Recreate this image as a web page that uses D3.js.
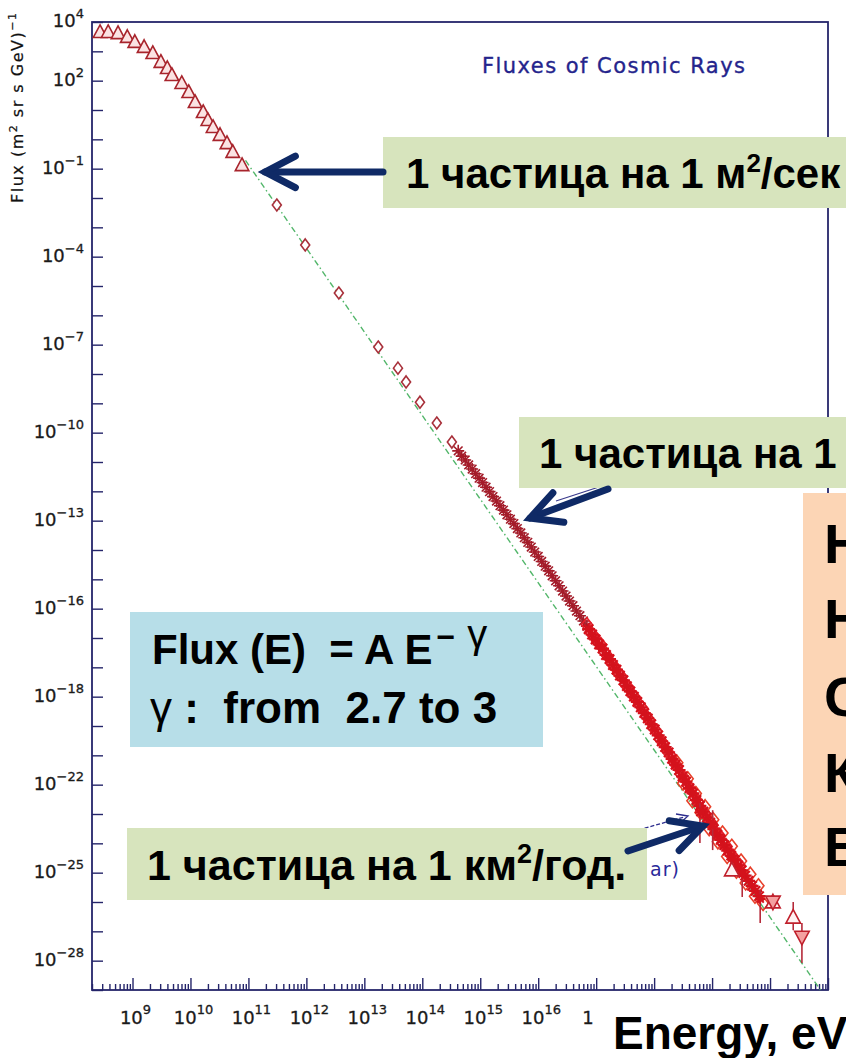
<!DOCTYPE html>
<html>
<head>
<meta charset="utf-8">
<script src="https://cdn.jsdelivr.net/npm/d3@7"></script>
<style>
  html, body { margin: 0; padding: 0; background: #fff; overflow: hidden; }
  svg { display: block; }
  text { font-family: "Liberation Sans", Arial, Helvetica, sans-serif; white-space: pre; }
  .root { font-family: "DejaVu Sans", "Liberation Sans", sans-serif; }
</style>
</head>
<body>
<svg id="chart" width="846" height="1058"></svg>
<script>
// ---- Data: all values are log10 of energy (eV) and log10 of flux (m^2 sr s GeV)^-1 ----

// Low-energy direct measurements (open triangles)
const lowTriLgE    = [8.44, 8.58, 8.75, 8.91, 9.04, 9.20, 9.35, 9.49, 9.60, 9.68, 9.85, 9.97, 10.08, 10.22, 10.30, 10.39, 10.51, 10.63, 10.73, 10.89];
const lowTriLgFlux = [3.66, 3.66, 3.62, 3.49, 3.32, 3.15, 2.94, 2.64, 2.43, 2.19, 1.92, 1.61, 1.27, 0.93, 0.66, 0.42, 0.15, -0.13, -0.43, -0.88];

// Sparse balloon/satellite points (open diamonds)
const diamondLgE    = [11.49, 11.98, 12.56, 13.24, 13.58, 13.72, 13.96, 14.25, 14.51];
const diamondLgFlux = [-2.24, -3.60, -5.24, -7.08, -7.80, -8.27, -8.96, -9.67, -10.32];

// Air-shower points around the knee (asterisks)
const starLgE = [14.62, 14.68, 14.74, 14.80, 14.86, 14.92, 14.98, 15.04, 15.10, 15.16, 15.22, 15.28, 15.34, 15.40,
                 15.46, 15.52, 15.58, 15.64, 15.70, 15.76, 15.82, 15.88, 15.94, 16.00, 16.06, 16.12, 16.18, 16.24,
                 16.30, 16.36, 16.42, 16.48, 16.54, 16.60, 16.66, 16.72, 16.78, 16.84];
const starLgFlux = [-10.62, -10.80, -10.93, -11.10, -11.24, -11.40, -11.55, -11.70, -11.86, -12.01, -12.18, -12.33, -12.49, -12.64,
                    -12.80, -12.95, -13.10, -13.27, -13.42, -13.58, -13.74, -13.90, -14.07, -14.22, -14.39, -14.55, -14.71, -14.88,
                    -15.05, -15.22, -15.40, -15.57, -15.74, -15.90, -16.08, -16.24, -16.42, -16.60];

// Above the knee, first data set (open diamonds)
const bandALgE = [16.84, 16.90, 16.96, 17.02, 17.08, 17.14, 17.20, 17.26, 17.32, 17.38, 17.44, 17.50, 17.56, 17.62, 17.68,
                  17.74, 17.80, 17.86, 17.92, 17.98, 18.04, 18.10, 18.16, 18.22, 18.28, 18.34, 18.40, 18.46, 18.52, 18.58,
                  18.64, 18.70, 18.76, 18.82, 18.88, 18.94, 19.00, 19.06, 19.12, 19.18, 19.24, 19.30, 19.36, 19.42, 19.48];
const bandALgFlux = [-16.55, -16.80, -16.92, -17.12, -17.22, -17.48, -17.62, -17.85, -17.98, -18.20, -18.32, -18.58, -18.70, -18.92, -19.05,
                     -19.26, -19.40, -19.66, -19.80, -20.05, -20.18, -20.45, -20.60, -20.84, -21.00, -21.24, -21.38, -21.64, -21.78, -22.02,
                     -22.18, -22.44, -22.60, -22.86, -23.00, -23.24, -23.36, -23.62, -23.72, -23.98, -24.08, -24.34, -24.44, -24.66, -24.76];

// Above the knee, second data set (asterisks)
const bandBLgE = [16.87, 16.93, 16.99, 17.05, 17.11, 17.17, 17.23, 17.29, 17.35, 17.41, 17.47, 17.53, 17.59, 17.65, 17.71,
                  17.77, 17.83, 17.89, 17.95, 18.01, 18.07, 18.13, 18.19, 18.25, 18.31, 18.37, 18.43, 18.49, 18.55, 18.61,
                  18.67, 18.73, 18.79, 18.85, 18.91, 18.97, 19.03, 19.09, 19.15, 19.21, 19.27, 19.33, 19.39, 19.45, 19.51,
                  19.57, 19.63, 19.69, 19.75, 19.81];
const bandBLgFlux = [-16.70, -16.88, -17.05, -17.22, -17.36, -17.58, -17.72, -17.92, -18.08, -18.28, -18.44, -18.64, -18.82, -19.00, -19.18,
                     -19.36, -19.56, -19.74, -19.94, -20.12, -20.32, -20.52, -20.72, -20.90, -21.12, -21.32, -21.50, -21.72, -21.90, -22.12,
                     -22.30, -22.52, -22.72, -22.92, -23.12, -23.30, -23.52, -23.70, -23.88, -24.06, -24.25, -24.42, -24.58, -24.75, -24.92,
                     -25.10, -25.28, -25.45, -25.62, -25.80];

// Ultra-high-energy data set with larger scatter (open diamonds)
const bandCLgE    = [18.40, 18.50, 18.58, 18.66, 18.72, 18.80, 18.88, 18.95, 19.02, 19.10, 19.18, 19.26, 19.34, 19.42, 19.50, 19.58, 19.66, 19.74, 19.80, 19.88];
const bandCLgFlux = [-21.25, -21.95, -21.80, -22.55, -22.30, -22.95, -22.75, -23.50, -23.20, -23.95, -23.65, -24.45, -24.10, -24.95, -24.60, -25.35, -25.05, -25.80, -25.45, -26.05];

// Low-statistics points with vertical error bars
const errLgE     = [18.79, 19.01, 19.52, 19.83];
const errLgFlux  = [-22.95, -23.35, -25.05, -25.90];
const errLgLow   = [-23.99, -24.23, -25.83, -26.72];
const errLgHigh  = [-22.63, -22.87, -24.91, -25.59];

// Highest-energy points
const hiTriLgE    = [19.34, 20.05];
const hiTriLgFlux = [-24.91, -26.00];
const tailLgE     = [20.05, 20.40, 20.55];
const tailLgFlux  = [-26.00, -26.52, -27.20];
const tailLgLow   = [-26.00, -26.96, -28.08];
const tailLgHigh  = [-26.00, -26.00, -26.72];
const tailShape   = ["down", "up", "down"];

// Power-law reference line E^-gamma
const fitLgE    = [10.95, 20.87];
const fitLgFlux = [-0.72, -29.00];

// Axis ticks
const xLabelExps = [9, 10, 11, 12, 13, 14, 15, 16];
const xCutLabel  = { exp: 17, text: "1" };
const yLabelExps = [4, 2, -1, -4, -7, -10, -13, -16, -19, -22, -25, -28];
const yLabelText = ["4", "2", "\u22121", "\u22124", "\u22127", "\u221210", "\u221213", "\u221216", "\u221218", "\u221222", "\u221225", "\u221228"];

// Annotation anchors (log10 energy, log10 flux) that the arrows point to
const perSecondLg = [11.29, -1.11];
const perYearM2Lg = [15.86, -12.91];
const perYearKm2Lg = [18.84, -23.41];

// ---- Scales ----
const svg = d3.select("#chart");
const x = d3.scaleLog().domain([2e8, 1e21]).range([92, 828]);
const y = d3.scaleLog().domain([1e-29, 1e4]).range([990, 22]);
const X = lg => x(Math.pow(10, lg));
const Y = lg => y(Math.pow(10, lg));

const axisColor = "#25256a";
const navy = "#0f2a66";

// ---- Frame and axes ----
const plot = svg.append("g");

const allX = x.ticks(20);
const isDecade = v => Math.abs(Math.log10(v) - Math.round(Math.log10(v))) < 1e-9;
const minorX = allX.filter(v => !isDecade(v));
const majorX = allX.filter(isDecade);

const xMinor = plot.append("g").attr("transform", "translate(0,990)")
  .call(d3.axisBottom(x).tickValues(minorX).tickSize(-6).tickSizeOuter(0).tickFormat(""));
const xMajor = plot.append("g").attr("transform", "translate(0,990)")
  .call(d3.axisBottom(x).tickValues(majorX).tickSize(-12).tickSizeOuter(0).tickFormat(""));
const yDecades = d3.range(-29, 5).map(e => Math.pow(10, e));
const yAxis = plot.append("g").attr("transform", "translate(92,0)")
  .call(d3.axisLeft(y).tickValues(yDecades).tickSize(-11).tickSizeOuter(0).tickFormat(""));
[xMinor, xMajor, yAxis].forEach(g => {
  g.select(".domain").remove();
  g.selectAll(".tick line").attr("stroke", axisColor).attr("stroke-width", 1.4);
});

plot.append("rect")
  .attr("x", 92).attr("y", 22).attr("width", 736).attr("height", 968)
  .attr("fill", "none").attr("stroke", axisColor).attr("stroke-width", 1.8);

// x tick labels: 10^n
xLabelExps.forEach(e => {
  const t = plot.append("text").attr("class", "root")
    .attr("x", X(e) + 3).attr("y", 1024)
    .attr("text-anchor", "middle").attr("fill", "#1a1a1a")
    .attr("stroke", "#1a1a1a").attr("stroke-width", 0.3);
  t.append("tspan").attr("font-size", 18).text("10");
  t.append("tspan").attr("font-size", 13).attr("dy", -10).text(e);
});
plot.append("text").attr("class", "root")
  .attr("x", X(xCutLabel.exp) - 14).attr("y", 1024)
  .attr("font-size", 18).attr("fill", "#1a1a1a")
  .attr("stroke", "#1a1a1a").attr("stroke-width", 0.3).text(xCutLabel.text);

// y tick labels
yLabelExps.forEach((e, i) => {
  const t = plot.append("text").attr("class", "root")
    .attr("x", 84).attr("y", Y(e) + 5)
    .attr("text-anchor", "end").attr("fill", "#1a1a1a")
    .attr("stroke", "#1a1a1a").attr("stroke-width", 0.3);
  t.append("tspan").attr("font-size", 18).text("10");
  t.append("tspan").attr("font-size", 13).attr("dy", -9).text(yLabelText[i]);
});

// y axis title
const yTitle = plot.append("text").attr("class", "root")
  .attr("transform", "translate(23,108) rotate(-90)")
  .attr("text-anchor", "middle").attr("fill", "#111").attr("font-size", 16)
  .attr("stroke", "#111").attr("stroke-width", 0.2)
  .attr("textLength", 190).attr("lengthAdjust", "spacing");
yTitle.append("tspan").text("Flux (m");
yTitle.append("tspan").attr("font-size", 11).attr("dy", -6).text("2");
yTitle.append("tspan").attr("dy", 6).text(" sr s GeV)");
yTitle.append("tspan").attr("font-size", 11).attr("dy", -7).text("\u22121");

// plot title
plot.append("text").attr("class", "root")
  .attr("x", 482).attr("y", 73).attr("font-size", 21).attr("fill", "#24248c")
  .attr("stroke", "#24248c").attr("stroke-width", 0.35)
  .attr("textLength", 263).attr("lengthAdjust", "spacing")
  .text("Fluxes of Cosmic Rays");

// ---- Power-law line ----
plot.append("path")
  .datum(fitLgE.map((e, i) => [e, fitLgFlux[i]]))
  .attr("d", d3.line().x(d => X(d[0])).y(d => Y(d[1])))
  .attr("fill", "none").attr("stroke", "#3fae5a").attr("stroke-width", 1.4)
  .attr("stroke-dasharray", "6,3,1.5,3").attr("opacity", 0.9);

// ---- Marker shapes ----
const triUp = s => `M0,${-s * 0.55}L${s * 0.52},${s * 0.42}L${-s * 0.52},${s * 0.42}Z`;
const triDown = s => `M0,${s * 0.55}L${s * 0.52},${-s * 0.42}L${-s * 0.52},${-s * 0.42}Z`;
const diamond = (w, h) => `M0,${-h / 2}L${w / 2},0L0,${h / 2}L${-w / 2},0Z`;
const asterisk = r => `M${-r},0H${r}M0,${-r}V${r}M${-r * 0.72},${-r * 0.72}L${r * 0.72},${r * 0.72}M${-r * 0.72},${r * 0.72}L${r * 0.72},${-r * 0.72}`;

function drawMarkers(lgE, lgF, path, style) {
  const pts = lgE.map((e, i) => [e, lgF[i]]);
  plot.append("g").selectAll("path").data(pts).join("path")
    .attr("transform", d => `translate(${X(d[0])},${Y(d[1])})`)
    .attr("d", path)
    .attr("fill", style.fill).attr("stroke", style.stroke).attr("stroke-width", style.width);
}

drawMarkers(lowTriLgE, lowTriLgFlux, triUp(13), { fill: "#fbe3e3", stroke: "#a8242c", width: 1.6 });
drawMarkers(diamondLgE, diamondLgFlux, diamond(9, 12), { fill: "#fff", stroke: "#a8303a", width: 1.6 });
drawMarkers(starLgE, starLgFlux, asterisk(6), { fill: "none", stroke: "#a41c2a", width: 1.6 });
drawMarkers(bandCLgE, bandCLgFlux, diamond(11, 14), { fill: "none", stroke: "#e8402a", width: 1.6 });
drawMarkers(bandALgE, bandALgFlux, diamond(11, 14), { fill: "none", stroke: "#e5202a", width: 1.7 });
drawMarkers(bandBLgE, bandBLgFlux, asterisk(6.5), { fill: "none", stroke: "#d4121c", width: 2.2 });

// error bars
const errG = plot.append("g").attr("stroke", "#b52a3a").attr("stroke-width", 1.6);
errLgE.forEach((e, i) => {
  errG.append("line").attr("x1", X(e)).attr("x2", X(e)).attr("y1", Y(errLgHigh[i])).attr("y2", Y(errLgLow[i]));
});
drawMarkers(errLgE, errLgFlux, asterisk(5), { fill: "none", stroke: "#d4121c", width: 2 });

drawMarkers(hiTriLgE, hiTriLgFlux, triUp(14), { fill: "#fff2f2", stroke: "#c0202c", width: 1.6 });
tailLgE.forEach((e, i) => {
  errG.append("line").attr("x1", X(e)).attr("x2", X(e)).attr("y1", Y(tailLgHigh[i])).attr("y2", Y(tailLgLow[i]));
});
tailLgE.forEach((e, i) => {
  plot.append("path")
    .attr("transform", `translate(${X(e)},${Y(tailLgFlux[i])})`)
    .attr("d", tailShape[i] === "up" ? triUp(14) : triDown(14))
    .attr("fill", tailShape[i] === "up" ? "#fff2f2" : "#f4a0a0")
    .attr("stroke", "#c0202c").attr("stroke-width", 1.6);
});

// ---- Original plot annotations (mostly hidden below the overlays) ----
plot.append("line").attr("x1", 556).attr("y1", 501).attr("x2", 602).attr("y2", 486)
  .attr("stroke", "#3a3a8c").attr("stroke-width", 1.2);
plot.append("line").attr("x1", 610).attr("y1", 838).attr("x2", 684).attr("y2", 817)
  .attr("stroke", "#2c2c8e").attr("stroke-width", 1.3).attr("stroke-dasharray", "4,2");
plot.append("path").attr("d", "M676,814L688,816L679,824")
  .attr("fill", "none").attr("stroke", "#2c2c8e").attr("stroke-width", 1.3);
plot.append("text").attr("class", "root")
  .attr("x", 650).attr("y", 876)
  .attr("font-size", 19).attr("letter-spacing", 1).attr("fill", "#2a2a9a")
  .text("ar)");

// ---- Overlay boxes ----
const over = svg.append("g");
const green = "#d7e4bd", blue = "#b7dee8", peach = "#fcd5b5";

function box(x0, y0, w, h, fill) {
  over.append("rect").attr("x", x0).attr("y", y0).attr("width", w).attr("height", h).attr("fill", fill);
}

// 1 particle per m^2 per second
box(383, 137, 470, 71, green);
const t1 = over.append("text").attr("x", 406).attr("y", 188)
  .attr("font-size", 42).attr("font-weight", "bold").attr("fill", "#000");
t1.append("tspan").text("1 частица на 1 м");
t1.append("tspan").attr("font-size", 26).attr("dy", -16).text("2");
t1.append("tspan").attr("dy", 16).text("/сек");

// 1 particle per m^2 per year (knee)
box(519, 417, 340, 71, green);
over.append("text").attr("x", 539).attr("y", 468)
  .attr("font-size", 42).attr("font-weight", "bold").attr("fill", "#000")
  .text("1 частица на 1");

// peach panel with a list cut by the page edge
box(803, 493, 60, 402, peach);
["Н", "Н", "С", "К", "В"].forEach((ch, i) => {
  over.append("text").attr("x", 824).attr("y", [563, 638, 716, 792, 866][i])
    .attr("font-size", 56).attr("font-weight", "bold").attr("fill", "#000").text(ch);
});

// power-law formula
box(130, 612, 413, 135, blue);
const f1 = over.append("text").attr("x", 152).attr("y", 664)
  .attr("font-size", 42).attr("font-weight", "bold").attr("fill", "#000");
f1.append("tspan").text("Flux (E)  = A E");
f1.append("tspan").attr("font-size", 32).attr("dx", 4).attr("dy", -16).text("\u2212");
f1.append("tspan").attr("font-size", 40).attr("font-weight", "normal").attr("dx", 12).text("\u03b3");
const f2 = over.append("text").attr("x", 150).attr("y", 723)
  .attr("font-size", 44).attr("font-weight", "bold").attr("fill", "#000");
f2.append("tspan").attr("font-weight", "normal").text("\u03b3");
f2.append("tspan").text(" :  from  2.7 to 3");

// 1 particle per km^2 per year (ankle)
box(127, 828, 520, 72, green);
const t5 = over.append("text").attr("x", 147).attr("y", 880)
  .attr("font-size", 43).attr("font-weight", "bold").attr("fill", "#000");
t5.append("tspan").text("1 частица на 1 км");
t5.append("tspan").attr("font-size", 27).attr("dy", -17).text("2");
t5.append("tspan").attr("dy", 17).text("/год.");

// x axis caption
over.append("text").attr("x", 613).attr("y", 1049)
  .attr("font-size", 46).attr("font-weight", "bold").attr("fill", "#000")
  .text("Energy, eV");

// ---- Arrows ----
function arrow(x0, y0, x1, y1) {
  const a = Math.atan2(y0 - y1, x0 - x1), L = 34, spread = 0.48;
  const g = over.append("g").attr("stroke", navy).attr("fill", "none")
    .attr("stroke-width", 7).attr("stroke-linecap", "round").attr("stroke-linejoin", "miter");
  g.append("line").attr("x1", x0).attr("y1", y0).attr("x2", x1).attr("y2", y1);
  g.append("path").attr("d",
    `M${x1 + L * Math.cos(a + spread)},${y1 + L * Math.sin(a + spread)}L${x1},${y1}L${x1 + L * Math.cos(a - spread)},${y1 + L * Math.sin(a - spread)}`);
}
arrow(383, Y(perSecondLg[1]), X(perSecondLg[0]), Y(perSecondLg[1]));
arrow(608, 489, X(perYearM2Lg[0]), Y(perYearM2Lg[1]));
arrow(628, 851, X(perYearKm2Lg[0]), Y(perYearKm2Lg[1]));
</script>
</body>
</html>
